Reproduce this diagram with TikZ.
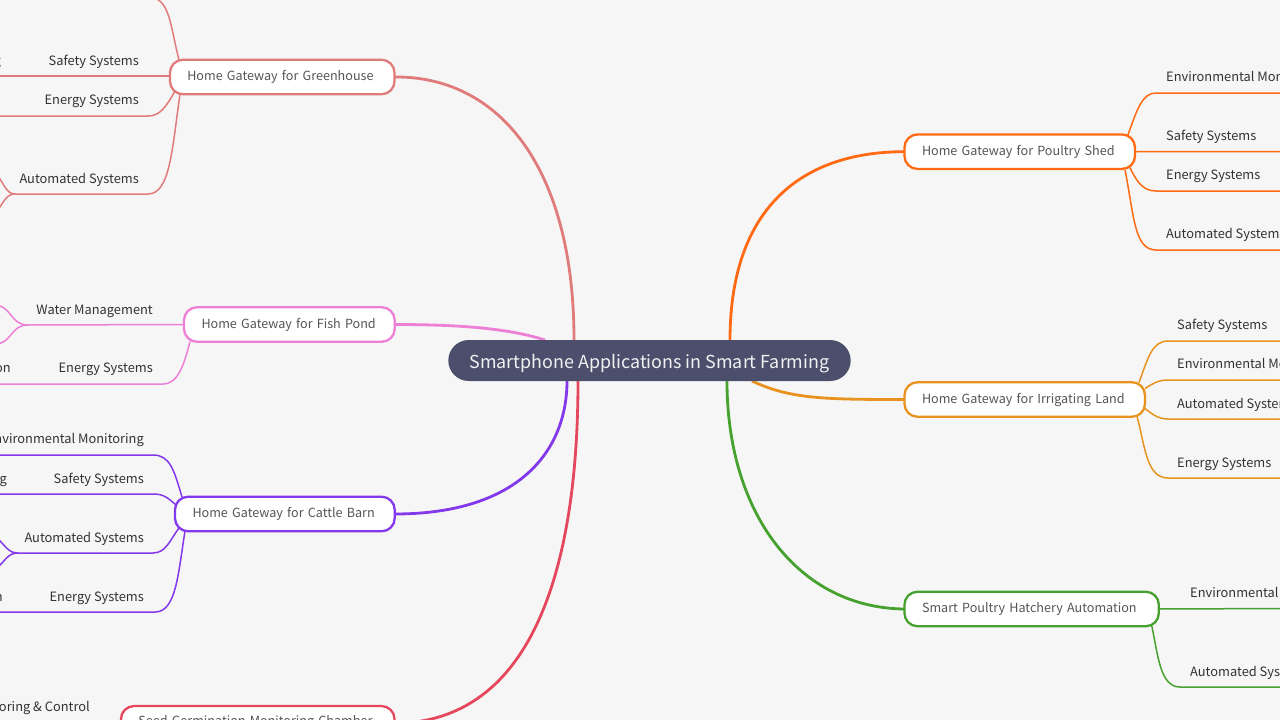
\documentclass[tikz,border=0pt]{standalone}
\usepackage{fontspec}
\setmainfont{Noto Sans CJK SC}
\usetikzlibrary{backgrounds,calc}
\definecolor{bgc}{HTML}{F6F6F6}
\definecolor{rootc}{HTML}{4B4F6B}
\definecolor{cgh}{HTML}{E07B7B}
\definecolor{cfp}{HTML}{EE7FD6}
\definecolor{ccb}{HTML}{8338EC}
\definecolor{csd}{HTML}{E5475C}
\definecolor{cps}{HTML}{FF6A13}
\definecolor{cil}{HTML}{E8931F}
\definecolor{cha}{HTML}{46A12F}
\definecolor{txt}{HTML}{333333}
\definecolor{gtx}{HTML}{555555}
\tikzset{
  x=1pt,y=-1pt,
  gw/.style={draw=#1,fill=white,line width=2.3pt,rounded corners=13pt,anchor=west,outer sep=0pt,
    minimum height=34.5pt,inner ysep=0pt,inner xsep=0pt,align=left,text=gtx,
    text height=11pt,text depth=3.5pt,font=\fontsize{12.6}{16}\selectfont},
  leafr/.style={anchor=base east,inner sep=0pt,yshift=0.2pt,text=txt,font=\fontsize{12.85}{16}\selectfont},
  leafl/.style={anchor=base west,inner sep=0pt,yshift=0.2pt,text=txt,font=\fontsize{12.85}{16}\selectfont},
  mainline/.style={draw=#1,line width=2.8pt},
  subline/.style={draw=#1,line width=1.5pt},
}
\begin{document}
\begin{tikzpicture}
\useasboundingbox (0,0) rectangle (1280,720);
\clip (0,0) rectangle (1280,720);
% ---- nodes
\node[fill=rootc,rounded corners=20.5pt,anchor=west,minimum width=402.4pt,minimum height=41pt,inner sep=0pt,outer sep=0pt,
  text=white!92!rootc,text height=17pt,text depth=2pt,font=\fontsize{17.9}{22}\selectfont] (root) at (448.3,360.5) {Smartphone Applications in Smart Farming};
\node[gw=cgh,minimum width=224.5pt,text width=224.5pt] (gh) at (170,77) {\hspace*{17.3pt}Home Gateway for Greenhouse};
\node[gw=cfp,minimum width=210.7pt,text width=210.7pt] (fp) at (184,324.5) {\hspace*{17.5pt}Home Gateway for Fish Pond};
\node[gw=ccb,minimum width=219.7pt,text width=219.7pt] (cb) at (175,514) {\hspace*{17.5pt}Home Gateway for Cattle Barn};
\node[gw=csd,minimum width=273.5pt,text width=273.5pt,text height=8pt] (sd) at (121,723.3) {\hspace*{17.3pt}Seed Germination Monitoring Chamber};
\node[gw=cps,minimum width=230.5pt,text width=230.5pt] (ps) at (904.5,151.7) {\hspace*{17.5pt}Home Gateway for Poultry Shed};
\node[gw=cil,minimum width=240.5pt,text width=240.5pt] (il) at (904.5,399.5) {\hspace*{17.5pt}Home Gateway for Irrigating Land};
\node[gw=cha,minimum width=254.3pt,text width=254.3pt] (ha) at (904.5,609) {\hspace*{17.5pt}Smart Poultry Hatchery Automation};
% ---- leaf labels, left
\node[leafr] (gh2x) at (1,66) {ng};
\node[leafr] (gh2) at (139,66) {Safety Systems};
\node[leafr] (gh3) at (139,105) {Energy Systems};
\node[leafr] (gh4) at (139,184) {Automated Systems};
\node[leafr] (fp1) at (153,315) {Water Management};
\node[leafr] (fp2) at (153,373) {Energy Systems};
\node[leafr] (fp2x) at (11,373) {on};
\node[leafr] (cb1) at (144,444) {Environmental Monitoring};
\node[leafr] (cb2) at (144,484) {Safety Systems};
\node[leafr] (cb2x) at (7,484) {ng};
\node[leafr] (cb3) at (144,543) {Automated Systems};
\node[leafr] (cb4) at (144,602) {Energy Systems};
\node[leafr] (cb4x) at (3,602) {on};
\node[leafr] (sd1) at (90,712) {Monitoring \& Control};
% ---- leaf labels, right
\node[leafl] (ps1) at (1166,82) {Environmental Monitoring};
\node[leafl] (ps2) at (1166,141) {Safety Systems};
\node[leafl] (ps3) at (1166,180) {Energy Systems};
\node[leafl] (ps4) at (1166,239) {Automated Systems};
\node[leafl] (il1) at (1177,330) {Safety Systems};
\node[leafl] (il2) at (1177,369) {Environmental Monitoring};
\node[leafl] (il3) at (1177,409) {Automated Systems};
\node[leafl] (il4) at (1177,468) {Energy Systems};
\node[leafl] (ha1) at (1190,598) {Environmental Monitoring};
\node[leafl] (ha2) at (1190,677) {Automated Systems};
% ---- free ends
\coordinate (gh1e) at (148,-3);
\coordinate (ghl) at (-5,76);
\coordinate (ghe) at (-5,116);
\coordinate (ghf) at (15,194);
\coordinate (ghfa) at (-5,172);
\coordinate (ghfb) at (-5,214);
\coordinate (fpf) at (28,325);
\coordinate (fpfa) at (-5,305);
\coordinate (fpfb) at (-5,344);
\coordinate (fpe) at (-5,384);
\coordinate (cbl1) at (-5,455);
\coordinate (cbl2) at (-5,494);
\coordinate (cbf) at (18,553);
\coordinate (cbfa) at (-5,536);
\coordinate (cbfb) at (-5,570);
\coordinate (cbl4) at (-5,612);
\coordinate (psr1) at (1285,93);
\coordinate (psr2) at (1285,151.5);
\coordinate (psr3) at (1285,191);
\coordinate (psr4) at (1285,250);
\coordinate (ilr1) at (1285,341);
\coordinate (ilr2) at (1285,380);
\coordinate (ilr3) at (1285,419);
\coordinate (ilr4) at (1285,478);
\coordinate (har1) at (1285,608.5);
\coordinate (har2) at (1285,687);
\begin{pgfonlayer}{background}
\clip (0,0) rectangle (1280,720);
\fill[bgc] (0,0) rectangle (1280,720);
% main branches
\draw[mainline=cgh] (gh.east) .. controls +(105,-1) and (574,168) .. (574,340) -- (root);
\draw[mainline=cfp] (fp.east) .. controls +(70,0) and (510,329) .. (545,340) -- (root);
\draw[mainline=ccb] (cb.east) .. controls +(125,0) and (567,450) .. (567,381) -- (root);
\draw[mainline=csd] (sd.east) .. controls +(150,-1) and (578,540) .. (578,381) -- (root);
\draw[mainline=cps] (ps.west) .. controls +(-105,0) and (730,210) .. (730,340) -- (root);
\draw[mainline=cil] (il.west) .. controls +(-80,0) and (790,399) .. (752,381) -- (root);
\draw[mainline=cha] (ha.west) .. controls +(-105,-1) and (727,515) .. (727,381) -- (root);
% greenhouse
\draw[subline=cgh] (gh.west)+(9,-17) .. controls (170,25) and (170,-3) .. (gh1e);
\draw[subline=cgh] (gh.west)+(0,-1) -- (ghl);
\draw[subline=cgh] (gh.west)+(5,14) .. controls (166,107) and (160,116) .. (148,116) -- (ghe);
\draw[subline=cgh] (gh.west)+(10,17) .. controls (172,150) and (170,194) .. (148,194) -- (ghf);
\draw[subline=cgh] (ghf) .. controls (6,194) and (4,183) .. (ghfa);
\draw[subline=cgh] (ghf) .. controls (6,194) and (4,202) .. (ghfb);
% fish pond
\draw[subline=cfp] (fp.west) -- (fpf);
\draw[subline=cfp] (fpf) .. controls (10,325) and (12,306) .. (fpfa);
\draw[subline=cfp] (fpf) .. controls (10,325) and (12,344) .. (fpfb);
\draw[subline=cfp] (fp.west)+(6,17) .. controls (184,365) and (178,384) .. (163,384) -- (fpe);
% cattle barn
\draw[subline=ccb] (cb.west)+(7,-17) .. controls (174,470) and (170,455) .. (153,455) -- (cbl1);
\draw[subline=ccb] (cb.west)+(1,-9) .. controls (168,498) and (164,494) .. (153,494) -- (cbl2);
\draw[subline=ccb] (cb.west)+(4,14) .. controls (170,540) and (166,553) .. (153,553) -- (cbf);
\draw[subline=ccb] (cbf) .. controls (8,553) and (6,546) .. (cbfa);
\draw[subline=ccb] (cbf) .. controls (8,553) and (6,560) .. (cbfb);
\draw[subline=ccb] (cb.west)+(10,17) .. controls (178,575) and (176,612) .. (155,612) -- (cbl4);
% poultry shed
\draw[subline=cps] (ps.east)+(-7,-17) .. controls (1137,110) and (1142,93) .. (1156,93) -- (psr1);
\draw[subline=cps] (ps.east) -- (psr2);
\draw[subline=cps] (ps.east)+(-5,16) .. controls (1136,180) and (1142,191) .. (1156,191) -- (psr3);
\draw[subline=cps] (ps.east)+(-10,18) .. controls (1134,215) and (1134,250) .. (1156,250) -- (psr4);
% irrigating land
\draw[subline=cil] (il.east)+(-6,-17) .. controls (1148,358) and (1152,341) .. (1168,341) -- (ilr1);
\draw[subline=cil] (il.east)+(0,-11) .. controls (1152,384) and (1158,380) .. (1168,380) -- (ilr2);
\draw[subline=cil] (il.east)+(0,9) .. controls (1152,414) and (1158,419) .. (1168,419) -- (ilr3);
\draw[subline=cil] (il.east)+(-8,17) .. controls (1145,445) and (1146,478) .. (1168,478) -- (ilr4);
% hatchery
\draw[subline=cha] (ha.east) -- (har1);
\draw[subline=cha] (ha.east)+(-7,17) .. controls (1158,655) and (1160,687) .. (1180,687) -- (har2);
\end{pgfonlayer}
\end{tikzpicture}
\end{document}
